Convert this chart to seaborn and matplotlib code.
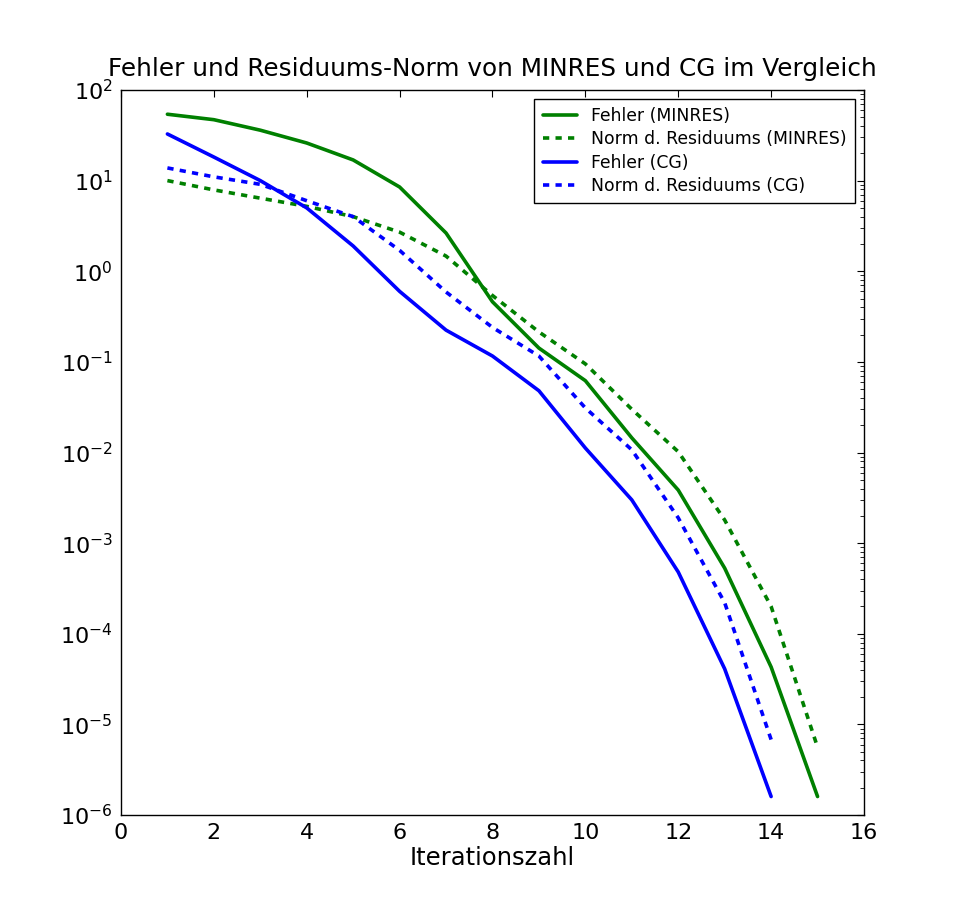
import numpy as np
import pandas as pd
import matplotlib
matplotlib.use("Agg")
import matplotlib.pyplot as plt
import seaborn as sns

iterations_minres = [1, 2, 3, 4, 5, 6, 7, 8, 9, 10, 11, 12, 13, 14, 15]
fehler_minres = [54, 47, 36, 26, 16.9, 8.5, 2.64, 0.46, 0.142, 0.062, 0.0145,
                 0.00385, 5.3e-4, 4.3e-5, 1.6e-6]
residuum_minres = [10, 7.9, 6.4, 5.2, 4.0, 2.7, 1.47, 0.54, 0.214, 0.095, 0.03,
                   0.0102, 0.0018, 2.0e-4, 5.6e-6]
iterations_cg = [1, 2, 3, 4, 5, 6, 7, 8, 9, 10, 11, 12, 13, 14]
fehler_cg = [32.7, 18.2, 10, 5.0, 1.9, 0.6, 0.224, 0.116, 0.048, 0.0112, 0.003,
             4.8e-4, 4.1e-5, 1.6e-6]
residuum_cg = [13.8, 11, 9.1, 6.0, 4.0, 1.7, 0.59, 0.24, 0.116, 0.031, 0.0107,
               0.0019, 2.2e-4, 6.8e-6]

labels = ["Fehler (MINRES)", "Norm d. Residuums (MINRES)",
          "Fehler (CG)", "Norm d. Residuums (CG)"]

frames = []
for lab, xs, ys in [(labels[0], iterations_minres, fehler_minres),
                    (labels[1], iterations_minres, residuum_minres),
                    (labels[2], iterations_cg, fehler_cg),
                    (labels[3], iterations_cg, residuum_cg)]:
    frames.append(pd.DataFrame({"Iteration": xs, "Wert": ys, "Kurve": lab}))
df = pd.concat(frames, ignore_index=True)

sns.set_style("white")
plt.rcParams["font.family"] = ["DejaVu Sans"]
plt.rcParams["lines.scale_dashes"] = False
plt.rcParams["xtick.direction"] = "in"
plt.rcParams["ytick.direction"] = "in"
plt.rcParams["text.color"] = "black"
plt.rcParams["axes.labelcolor"] = "black"
plt.rcParams["xtick.color"] = "black"
plt.rcParams["ytick.color"] = "black"
plt.rcParams["axes.unicode_minus"] = False
plt.rcParams["mathtext.default"] = "regular"

fig = plt.figure(figsize=(9.6, 9.07), dpi=100)
ax = fig.add_axes([0.126, 0.1014, 0.774, 0.7994])

palette = {labels[0]: "#008000", labels[1]: "#008000",
           labels[2]: "#0000ff", labels[3]: "#0000ff"}
dashes = {labels[0]: "", labels[1]: (4.5, 4.5),
          labels[2]: "", labels[3]: (4.5, 4.5)}

sns.lineplot(data=df, x="Iteration", y="Wert", hue="Kurve", style="Kurve",
             hue_order=labels, style_order=labels, palette=palette,
             dashes=dashes, linewidth=2.6, ax=ax, legend=True)

ax.set_yscale("log")
ax.set_xlim(0, 16)
ax.set_ylim(1e-6, 1e2)
ax.set_xticks(range(0, 17, 2))
ax.set_yticks([10.0 ** k for k in range(-6, 3)])
ax.set_yticklabels([r"$10^{%d}$" % k for k in range(-6, 3)])
ax.tick_params(which="both", top=True, right=True, direction="in",
               labelsize=16, color="black", labelcolor="black", pad=6)
ax.tick_params(which="major", length=5, width=0.8)
ax.tick_params(which="minor", length=3, width=0.6)
for s in ax.spines.values():
    s.set_color("black")
    s.set_linewidth(1.0)

ax.set_xlabel("Iterationszahl", fontsize=17.5, labelpad=2, color="black")
ax.set_ylabel("")
ax.set_title("Fehler und Residuums-Norm von MINRES und CG im Vergleich",
             fontsize=17.8, pad=10, color="black")

leg = ax.legend(loc="upper right", fontsize=12.4, frameon=True, fancybox=False,
                edgecolor="black", framealpha=1, borderaxespad=0.5,
                handlelength=2.0, borderpad=0.5, labelspacing=0.3)
leg.get_frame().set_linewidth(1.0)
for t in leg.get_texts():
    t.set_color("black")

fig.savefig("out.png", dpi=100)
